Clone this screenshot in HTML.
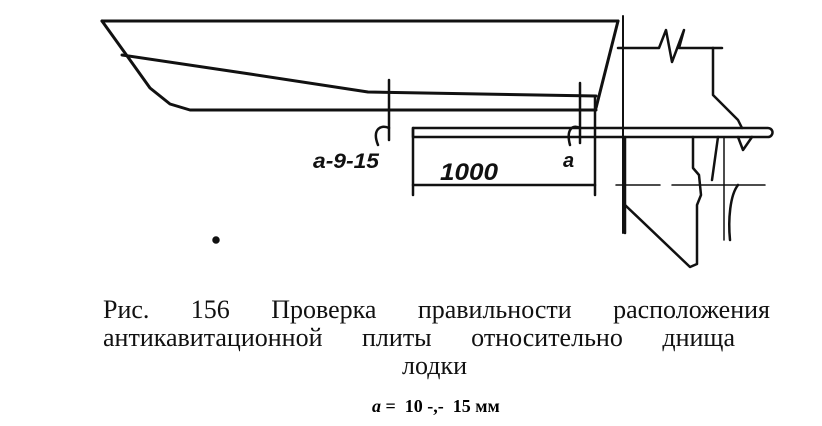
<!DOCTYPE html>
<html><head><meta charset="utf-8"><style>
body{margin:0;background:#fff;width:822px;height:426px;overflow:hidden;position:relative;font-family:"Liberation Serif",serif;}
.l{position:absolute;font-size:26px;line-height:28px;color:#111;text-align:justify;text-align-last:justify;white-space:nowrap}
</style></head><body>
<svg width="822" height="290" style="position:absolute;left:0;top:0" fill="none" stroke="#111" stroke-linecap="round" stroke-linejoin="round">
<g stroke-width="3">
<line x1="102" y1="21" x2="618" y2="21"/>
<polyline points="102,21 130,60 150,88 170,104 190,110 596,110"/>
<polyline points="122,55 250,74 368,92 596,96"/>
<line x1="618" y1="21" x2="596" y2="108"/>
</g>
<line x1="623" y1="16" x2="623" y2="233" stroke-width="2"/>
<g stroke-width="2.5">
<polyline points="618,48 659,48 666,30 672,62 684,30 679,48 713,48"/>
<line x1="713" y1="48" x2="722" y2="48"/>
<polyline points="713,48 713,95 738,120 742,128"/>
<path d="M413,128 H768 a4.5,4.5 0 0 1 0,9 H413 Z"/>
<line x1="413" y1="128" x2="413" y2="195"/>
<line x1="413" y1="185" x2="595" y2="185"/>
<line x1="595" y1="96" x2="595" y2="195"/>
<line x1="389" y1="80" x2="389" y2="140"/>
<line x1="580" y1="83" x2="580" y2="143"/>
<path d="M389,128 C380,124 372,130 378,145"/>
<path d="M580,128 C572,124 566,130 570,145"/>
<polyline points="625,137 625,233"/>
<polyline points="625,205 690,267 697,264 697,205 701,195 699,175 693,168 693,137"/>
<polyline points="718,137 712,180"/>
<polyline points="738,137 743,150 752,137"/>
<line x1="724" y1="137" x2="724" y2="240" stroke-width="1.5"/>
<path d="M738,185 C730,195 728,220 730,240"/>
<line x1="616" y1="185" x2="660" y2="185" stroke-width="1.5"/>
<line x1="672" y1="185" x2="765" y2="185" stroke-width="1.5"/>
<circle cx="216" cy="240" r="2.5" fill="#111"/>
</g>
<g font-family="Liberation Sans,sans-serif" font-style="italic" font-weight="bold" fill="#111" stroke="none">
<text x="313" y="168" font-size="21" textLength="66" lengthAdjust="spacingAndGlyphs">a-9-15</text>
<text x="440" y="180" font-size="24" textLength="58" lengthAdjust="spacingAndGlyphs">1000</text>
<text x="563" y="167" font-size="20">a</text>
</g>
</svg>
<div class="l" style="left:103px;top:296px;width:667px">Рис. 156 Проверка правильности расположения</div>
<div class="l" style="left:103px;top:324px;width:632px">антикавитационной плиты относительно днища</div>
<div class="l" style="left:402px;top:352px;text-align-last:left">лодки</div>
<div style="position:absolute;left:372px;top:396px;font-size:18px;font-weight:bold;white-space:pre"><i>a</i> =  10 -,-  15 мм</div>
</body></html>
